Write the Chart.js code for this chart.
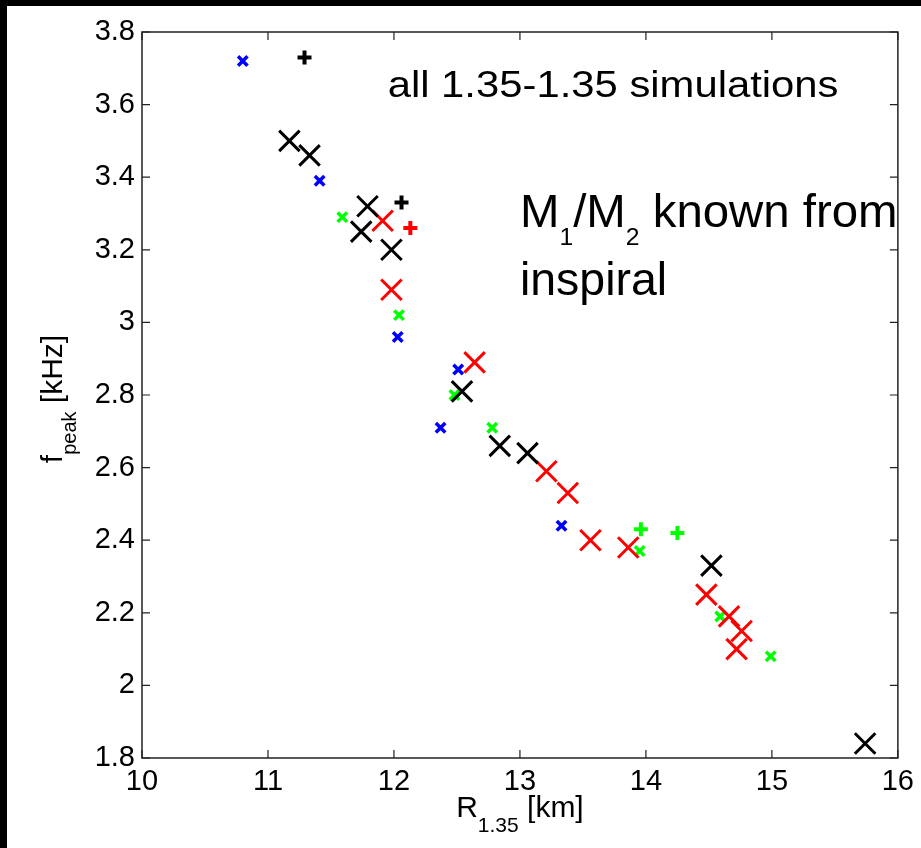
<!DOCTYPE html>
<html>
<head>
<meta charset="utf-8">
<script src="https://cdn.jsdelivr.net/npm/chart.js@4.4.1/dist/chart.umd.min.js"></script>
<style>
  html, body { margin: 0; padding: 0; background: #000; }
  #wrap { position: absolute; left: 7px; top: 6px; width: 914px; height: 842px; background: #fff; }
</style>
</head>
<body>
<div id="wrap"><canvas id="myChart" width="914" height="842"></canvas></div>
<script>
// R_1.35 [km] and f_peak [kHz]
var blackXR = [11.17, 11.33, 11.79, 11.74, 11.98, 12.54, 12.84, 13.06, 14.52, 15.74];
var blackXF = [3.50, 3.46, 3.32, 3.25, 3.20, 2.81, 2.66, 2.64, 2.33, 1.84];

var redXR = [11.91, 11.98, 12.64, 13.21, 13.38, 13.56, 13.86, 14.48, 14.66, 14.76, 14.72];
var redXF = [3.28, 3.09, 2.89, 2.59, 2.53, 2.40, 2.38, 2.25, 2.19, 2.15, 2.10];

var blueXR = [10.80, 11.41, 12.03, 12.51, 12.37, 13.33];
var blueXF = [3.72, 3.39, 2.96, 2.87, 2.71, 2.44];

var greenXR = [11.59, 12.04, 12.48, 12.78, 13.95, 14.59, 14.99];
var greenXF = [3.29, 3.02, 2.80, 2.71, 2.37, 2.19, 2.08];

var blackPlusR = [11.29, 12.06];
var blackPlusF = [3.73, 3.33];
var redPlusR = [12.13];
var redPlusF = [3.26];
var greenPlusR = [13.96, 14.25];
var greenPlusF = [2.43, 2.42];

var xTicks = [10, 11, 12, 13, 14, 15, 16];
var yTicks = [1.8, 2, 2.2, 2.4, 2.6, 2.8, 3, 3.2, 3.4, 3.6, 3.8];

var FONT = '"Liberation Sans", Arial, Helvetica, sans-serif';

function pts(xs, ys) {
  return xs.map(function (x, i) { return { x: x, y: ys[i] }; });
}

function set(xs, ys, color, style, radius, width) {
  return {
    data: pts(xs, ys),
    showLine: false,
    pointStyle: style,
    pointRadius: radius,
    pointHoverRadius: radius,
    pointBorderWidth: width,
    pointHoverBorderWidth: width,
    borderColor: color,
    backgroundColor: color
  };
}

// draws text pieces one after another (for subscripts)
function runsWidth(ctx, runs) {
  var w = 0;
  runs.forEach(function (r) {
    ctx.font = r.size + 'px ' + FONT;
    w += ctx.measureText(r.t).width;
  });
  return w;
}
function drawRuns(ctx, runs, x, y, stretch) {
  ctx.save();
  ctx.translate(x, y);
  ctx.scale(stretch || 1, 1);
  ctx.fillStyle = '#000';
  ctx.textBaseline = 'alphabetic';
  ctx.textAlign = 'left';
  var cx = 0;
  runs.forEach(function (r) {
    ctx.font = r.size + 'px ' + FONT;
    ctx.fillText(r.t, cx, r.dy || 0);
    cx += ctx.measureText(r.t).width;
  });
  ctx.restore();
}

var xTitle = [{ t: 'R', size: 30 }, { t: '1.35', size: 21, dy: 15 }, { t: ' [km]', size: 30 }];
var yTitle = [{ t: 'f', size: 30 }, { t: 'peak', size: 20, dy: 14 }, { t: ' [kHz]', size: 30 }];
var note1 = [{ t: 'all 1.35-1.35 simulations', size: 37 }];
var note2 = [{ t: 'M', size: 46 }, { t: '1', size: 24, dy: 18 }, { t: '/M', size: 46 }, { t: '2', size: 24, dy: 18 }, { t: ' known from', size: 46 }];
var note3 = [{ t: 'inspiral', size: 46 }];

var framePlugin = {
  id: 'frame',
  beforeDatasetsDraw: function (chart) {
    var ctx = chart.ctx, a = chart.chartArea;
    var sx = chart.scales.x, sy = chart.scales.y;
    ctx.save();
    ctx.strokeStyle = '#222';
    ctx.lineWidth = 1.5;
    ctx.strokeRect(a.left, a.top, a.right - a.left, a.bottom - a.top);
    ctx.lineWidth = 1.2;
    ctx.beginPath();
    xTicks.forEach(function (v) {
      var p = sx.getPixelForValue(v);
      ctx.moveTo(p, a.bottom); ctx.lineTo(p, a.bottom - 8);
      ctx.moveTo(p, a.top); ctx.lineTo(p, a.top + 8);
    });
    yTicks.forEach(function (v) {
      var p = sy.getPixelForValue(v);
      ctx.moveTo(a.left, p); ctx.lineTo(a.left + 8, p);
      ctx.moveTo(a.right, p); ctx.lineTo(a.right - 8, p);
    });
    ctx.stroke();
    ctx.restore();
  },
  afterDraw: function (chart) {
    var ctx = chart.ctx, a = chart.chartArea;
    var sx = chart.scales.x, sy = chart.scales.y;
    // x axis title
    var w = runsWidth(ctx, xTitle);
    drawRuns(ctx, xTitle, (a.left + a.right) / 2 - w / 2, a.bottom + 59);
    // y axis title, rotated
    w = runsWidth(ctx, yTitle);
    ctx.save();
    ctx.translate(55, (a.top + a.bottom) / 2 + 4);
    ctx.rotate(-Math.PI / 2);
    drawRuns(ctx, yTitle, -w / 2, 0);
    ctx.restore();
    // notes inside the plot
    drawRuns(ctx, note1, sx.getPixelForValue(11.95), sy.getPixelForValue(3.621), 1.13);
    drawRuns(ctx, note2, sx.getPixelForValue(13.0), sy.getPixelForValue(3.263), 1.03);
    drawRuns(ctx, note3, sx.getPixelForValue(13.0), sy.getPixelForValue(3.075), 1.01);
  }
};

var ctx = document.getElementById('myChart').getContext('2d');
new Chart(ctx, {
  type: 'scatter',
  data: {
    datasets: [
      set(blackXR, blackXF, '#000000', 'crossRot', 14.5, 3),
      set(redXR, redXF, '#ff0000', 'crossRot', 14.5, 3),
      set(blueXR, blueXF, '#0000ff', 'crossRot', 6.7, 3.5),
      set(greenXR, greenXF, '#00ff00', 'crossRot', 6.7, 3.5),
      set(blackPlusR, blackPlusF, '#000000', 'cross', 7, 4),
      set(redPlusR, redPlusF, '#ff0000', 'cross', 7, 4),
      set(greenPlusR, greenPlusF, '#00ff00', 'cross', 7, 4)
    ]
  },
  options: {
    responsive: false,
    animation: false,
    events: [],
    layout: { padding: { left: 0, top: 26, right: 23, bottom: 0 } },
    plugins: { legend: { display: false }, tooltip: { enabled: false } },
    scales: {
      x: {
        type: 'linear', min: 10, max: 16,
        afterBuildTicks: function (s) { s.ticks = xTicks.map(function (v) { return { value: v }; }); },
        afterFit: function (s) { s.height = 90; },
        grid: { display: false, drawTicks: false },
        border: { display: false },
        ticks: { color: '#000', padding: 7, maxRotation: 0, font: { family: FONT, size: 29 } }
      },
      y: {
        type: 'linear', min: 1.8, max: 3.8,
        afterBuildTicks: function (s) { s.ticks = yTicks.map(function (v) { return { value: v }; }); },
        afterFit: function (s) { s.width = 135; },
        grid: { display: false, drawTicks: false },
        border: { display: false },
        ticks: {
          color: '#000', padding: 7, font: { family: FONT, size: 29 },
          callback: function (v) { return String(Math.round(v * 10) / 10); }
        }
      }
    }
  },
  plugins: [framePlugin]
});
</script>
</body>
</html>
